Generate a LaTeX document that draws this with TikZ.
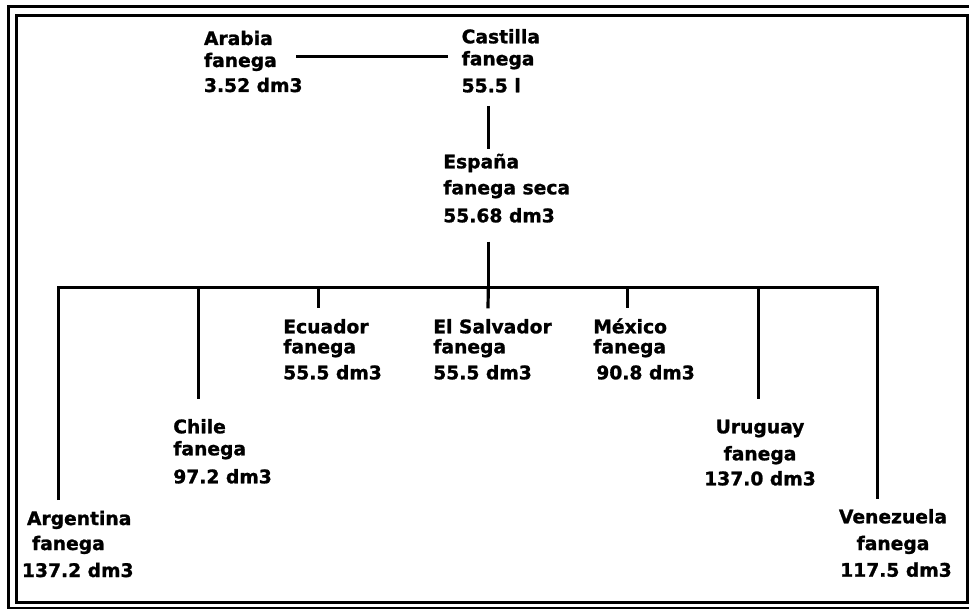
\documentclass[tikz,border=0pt]{standalone}
\usepackage{fontspec}
\setmainfont{DejaVu Sans}
\newfontfamily\lblfont{DejaVu Sans}[BoldFeatures={FakeBold=1.2}]
\begin{document}
\begin{tikzpicture}[x=1pt,y=-1pt,
  lbl/.style={inner sep=0pt, outer sep=0pt, anchor=base west,
    font=\lblfont\fontsize{18.7}{22}\selectfont\bfseries},
  clbl/.style={lbl, anchor=base},
  conn/.style={line width=3.2pt},
  frame/.style={line width=3pt}]
\useasboundingbox (0,0) rectangle (969,609);
\fill[white] (0,0) rectangle (969,609);
\clip (0,0) rectangle (969,609);
% frames
\draw[frame] (8,6.5) rectangle (976,608.5);
\draw[frame] (16,15.5) rectangle (967.3,602);
% labels
\node[lbl] (arabia) at (204,45) {\begin{tabular}[t]{@{}l@{}}Arabia\\fanega\\[3pt]3.52 dm3\end{tabular}};
\node[lbl] (castilla) at (461.7,43.3) {\begin{tabular}[t]{@{}l@{}}Castilla\\fanega\\[5pt]55.5 l\end{tabular}};
\node[lbl] (espana) at (443.3,168.3) {\begin{tabular}[t]{@{}l@{}}España\\[4pt]fanega seca\\[6pt]55.68 dm3\end{tabular}};
\node[lbl] (ecuador) at (283.3,333.3) {\begin{tabular}[t]{@{}l@{}}Ecuador\\[-2pt]fanega\\[4pt]55.5 dm3\end{tabular}};
\node[lbl] (salvador) at (433.3,333.3) {\begin{tabular}[t]{@{}l@{}}El Salvador\\[-2pt]fanega\\[4pt]55.5 dm3\end{tabular}};
\node[lbl] (mexico) at (593.3,333.3) {\begin{tabular}[t]{@{}l@{}}México\\[-2pt]fanega\\[4pt]\hspace*{3pt}90.8 dm3\end{tabular}};
\node[lbl] (chile) at (173.3,433.3) {\begin{tabular}[t]{@{}l@{}}Chile\\fanega\\[6pt]97.2 dm3\end{tabular}};
\node[lbl] (argentina) at (22,525) {\begin{tabular}[t]{@{}l@{}}\hspace*{5pt}Argentina\\[3pt]\hspace*{10pt}fanega\\[5pt]137.2 dm3\end{tabular}};
\node[clbl] (uruguay) at (760,433.3) {\begin{tabular}[t]{@{}c@{}}Uruguay\\[5pt]fanega\\[3pt]137.0 dm3\end{tabular}};
\node[clbl] (venezuela) at (893,523.3) {\begin{tabular}[t]{@{}c@{}}Venezuela\\[4.7pt]fanega\\[4.7pt]\hspace*{6pt}117.5 dm3\end{tabular}};
% connector points
\coordinate (arabia-r) at (296,56.7);
\coordinate (castilla-l) at (448.3,56.7);
\coordinate (castilla-b) at (488.3,106);
\coordinate (espana-t) at (488.3,149.3);
\coordinate (espana-b) at (488.3,241.7);
\coordinate (bus-l) at (58.3,287.5);
\coordinate (bus-r) at (877.5,287.5);
\coordinate (bus-m) at (488.3,287.5);
\coordinate (argentina-t) at (58.3,500);
\coordinate (chile-t) at (198.3,399.3);
\coordinate (ecuador-t) at (318.3,308.3);
\coordinate (salvador-t) at (488,308.3);
\coordinate (mexico-t) at (627.7,308.3);
\coordinate (uruguay-t) at (758.3,399.3);
\coordinate (venezuela-t) at (877.5,499.3);
% connectors
\draw[conn] (arabia-r) -- (castilla-l);
\draw[conn] (castilla-b) -- (espana-t);
\draw[conn] (espana-b) -- (bus-m);
\draw[conn] (argentina-t) -- (bus-l) -- (bus-r) -- (venezuela-t);
\draw[conn] (chile-t |- bus-m) -- (chile-t);
\draw[conn] (ecuador-t |- bus-m) -- (ecuador-t);
\draw[conn] (bus-m) -- (salvador-t);
\draw[conn] (mexico-t |- bus-m) -- (mexico-t);
\draw[conn] (uruguay-t |- bus-m) -- (uruguay-t);
\end{tikzpicture}
\end{document}
